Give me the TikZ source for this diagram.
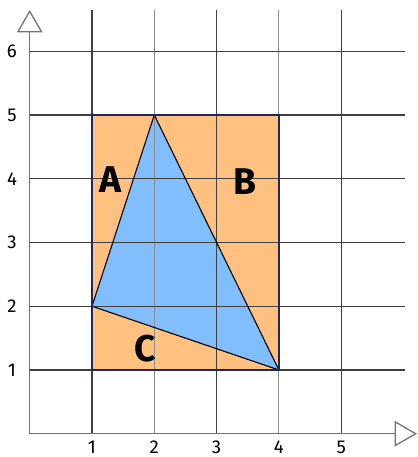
\documentclass[tikz,border=0pt]{standalone}
\usepackage{fontspec}
\setmainfont{Fira Sans}
\usetikzlibrary{arrows.meta}
\definecolor{rectorange}{RGB}{255,192,128}
\definecolor{triblue}{RGB}{128,190,255}
\definecolor{rectnavy}{RGB}{30,40,90}

\begin{document}
\begin{tikzpicture}[
    x=1cm, y=1.0233cm,
    darkline/.style={draw=black!75, line width=0.5pt},
    lightline/.style={draw=black!45, line width=0.5pt},
    axis/.style={draw=black!55, line width=0.6pt, -{Triangle[open, length=0.36cm, width=0.41cm]}},
    tick/.style={font=\fontsize{8.5}{9}\selectfont},
    region/.style={font=\fontsize{17}{18}\selectfont\bfseries}
]
\useasboundingbox (-0.477,-0.365) rectangle (6.217,6.804);

% corners of the triangle
\coordinate (P) at (1,2);
\coordinate (Q) at (2,5);
\coordinate (R) at (4,1);

% filled regions
\fill[rectorange] (1,1) rectangle (4,5);
\fill[triblue] (P) -- (Q) -- (R) -- cycle;

% grid
\foreach \x in {1,3,5} \draw[darkline] (\x,0) -- (\x,6.65);
\foreach \x in {2,4} \draw[lightline] (\x,0) -- (\x,6.65);
\foreach \y in {1,...,6} \draw[darkline] (0,\y) -- (6.02,\y);

% axes
\coordinate (O) at (0,0);
\coordinate (xend) at (6.217,0);
\coordinate (yend) at (0,6.647);
\draw[axis] (O) -- (xend);
\draw[axis] (O) -- (yend);

% outlines
\draw[black, line width=0.5pt] (P) -- (Q) -- (R) -- cycle;
\draw[rectnavy, line width=1.2pt] (1,1) rectangle (4,5);

% tick labels
\foreach \y in {1,...,6} \node[tick] (ylab\y) at (-0.285,\y) {\y};
\foreach \x in {1,...,5} \node[tick, anchor=north, inner sep=0pt] (xlab\x) at (\x,-0.11) {\x};

% region labels
\node[region] (A) at (1.29,3.98) {A};
\node[region] (B) at (3.46,3.96) {B};
\node[region] (C) at (1.85,1.34) {C};

\end{tikzpicture}
\end{document}
